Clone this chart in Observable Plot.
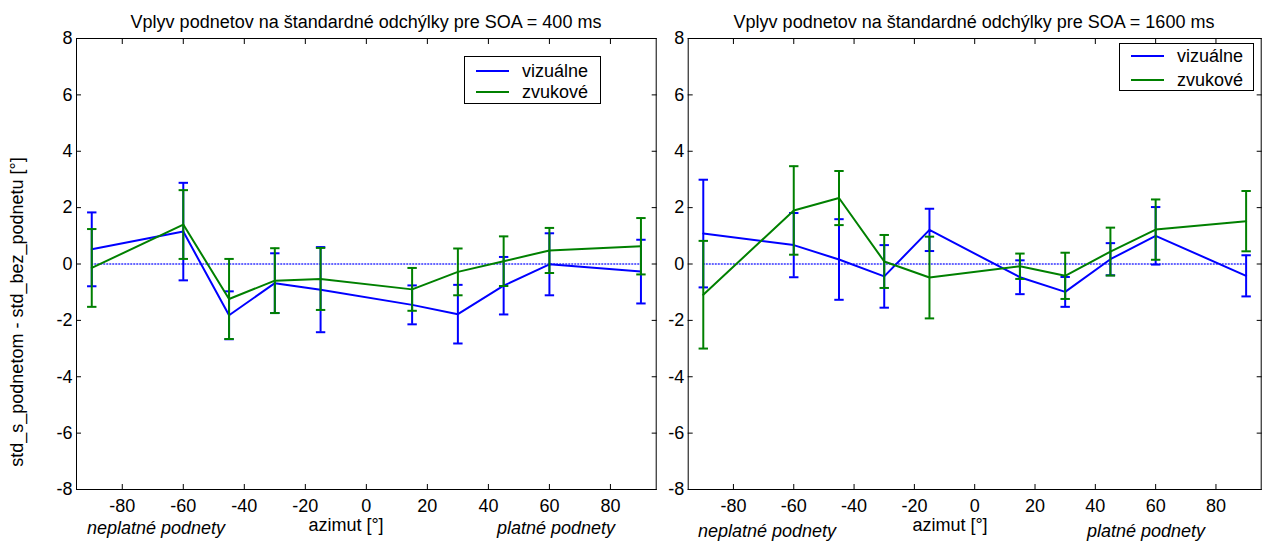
<!DOCTYPE html>
<html>
<head>
<meta charset="utf-8">
<script src="https://cdn.jsdelivr.net/npm/d3@7"></script>
<script src="https://cdn.jsdelivr.net/npm/@observablehq/plot@0.6"></script>
<style>
  body { margin: 0; background: #fff; font-family: "Liberation Sans", Arial, sans-serif; }
  #wrap { position: relative; width: 1266px; height: 541px; overflow: hidden; background: #fff; }
  .abs { position: absolute; white-space: nowrap; font-size: 18px; line-height: 1; color: #000; transform: translate(-50%, -50%); }
  .it { font-style: italic; }
  .panel { position: absolute; top: 0; }
  .legend { position: absolute; box-sizing: border-box; border: 1px solid #000; background: #fff; }
  .legend .ln { position: absolute; height: 0; border-top: 2px solid; transform: translateY(-1px); }
  .legend .tx { position: absolute; font-size: 18px; line-height: 1; white-space: nowrap; transform: translateY(-50%); }
</style>
</head>
<body>
<div id="wrap"></div>
<script>
// ---------------- data ----------------
const azimuth = [-90, -60, -45, -30, -15, 15, 30, 45, 60, 90];

const seriesNames  = ["vizuálne", "zvukové"];
const seriesColors = ["#0000ff", "#008000"];

// SOA = 400 ms
const vis400Mean = [0.52, 1.15, -1.82, -0.68, -0.91, -1.45, -1.78, -0.77, -0.01, -0.27];
const vis400Err  = [1.31, 1.73, 0.85, 1.06, 1.51, 0.69, 1.04, 1.02, 1.10, 1.13];
const aud400Mean = [-0.14, 1.40, -1.24, -0.59, -0.53, -0.90, -0.28, 0.10, 0.48, 0.63];
const aud400Err  = [1.38, 1.22, 1.42, 1.15, 1.10, 0.76, 0.83, 0.88, 0.80, 1.00];

// SOA = 1600 ms
const vis1600Mean = [1.08, 0.67, 0.16, -0.44, 1.21, -0.47, -0.99, 0.17, 1.00, -0.42];
const vis1600Err  = [1.91, 1.14, 1.43, 1.11, 0.75, 0.60, 0.53, 0.57, 1.02, 0.73];
const aud1600Mean = [-1.09, 1.90, 2.34, 0.09, -0.48, -0.08, -0.42, 0.44, 1.22, 1.52];
const aud1600Err  = [1.91, 1.57, 0.96, 0.94, 1.45, 0.45, 0.82, 0.85, 1.07, 1.07];

const xTicks = [-80, -60, -40, -20, 0, 20, 40, 60, 80];
const yTicks = [-8, -6, -4, -2, 0, 2, 4, 6, 8];
const xDomain = [-95, 95];
const yDomain = [-8, 8];

const titles = [
  "Vplyv podnetov na štandardné odchýlky pre SOA = 400 ms",
  "Vplyv podnetov na štandardné odchýlky pre SOA = 1600 ms"
];
const yLabel = "std_s_podnetom - std_bez_podnetu [°]";
const xLabel = "azimut [°]";
const leftNote = "neplatné podnety";
const rightNote = "platné podnety";

// ---------------- drawing ----------------
const capSymbol = {
  draw(ctx, size) {
    const r = Math.sqrt(size / Math.PI);
    ctx.moveTo(-r, 0);
    ctx.lineTo(r, 0);
  }
};

function buildRows(pairs) {
  const rows = [];
  pairs.forEach(([m, e], si) => azimuth.forEach((a, i) => rows.push({
    series: seriesNames[si], az: a, mean: m[i], lo: m[i] - e[i], hi: m[i] + e[i]
  })));
  return rows;
}

function panel(pairs, layout) {
  const rows = buildRows(pairs);
  const fmt = d => String(d);
  const marks = [
    Plot.ruleY([0], {x1: d3.min(azimuth), x2: d3.max(azimuth), stroke: "#0000ff",
      strokeOpacity: 0.6, strokeWidth: 2, strokeDasharray: "2,1"})
  ];
  seriesNames.forEach((s, si) => {
    const d = rows.filter(r => r.series === s);
    const c = seriesColors[si];
    marks.push(Plot.line(d, {x: "az", y: "mean", stroke: c, strokeWidth: 2}));
    marks.push(Plot.ruleX(d, {x: "az", y1: "lo", y2: "hi", stroke: c, strokeWidth: 2}));
    marks.push(Plot.dot(d, {x: "az", y: "lo", symbol: capSymbol, r: 4.7, stroke: c, strokeWidth: 2, fill: "none"}));
    marks.push(Plot.dot(d, {x: "az", y: "hi", symbol: capSymbol, r: 4.7, stroke: c, strokeWidth: 2, fill: "none"}));
  });
  marks.push(Plot.frame({stroke: "#000", strokeWidth: 1}));
  // inward ticks on all four sides
  marks.push(Plot.axisX(xTicks, {anchor: "bottom", tickSize: 5, dy: -5, tickFormat: () => "", label: null}));
  marks.push(Plot.axisX(xTicks, {anchor: "top", tickSize: 5, dy: 5, tickFormat: () => "", label: null}));
  marks.push(Plot.axisY(yTicks, {anchor: "left", tickSize: 5, dx: 5, tickFormat: () => "", label: null}));
  marks.push(Plot.axisY(yTicks, {anchor: "right", tickSize: 5, dx: -5, tickFormat: () => "", label: null}));
  // tick labels
  marks.push(Plot.axisX(xTicks, {anchor: "bottom", tickSize: 0, tickPadding: 9.5, tickFormat: fmt, label: null}));
  marks.push(Plot.axisY(yTicks, {anchor: "left", tickSize: 0, tickPadding: 4, tickFormat: fmt, label: null}));

  return Plot.plot({
    width: layout.width,
    height: 541,
    marginLeft: layout.ml,
    marginRight: layout.mr,
    marginTop: 38,
    marginBottom: 52,
    x: {domain: xDomain},
    y: {domain: yDomain},
    style: {fontFamily: "'Liberation Sans', Arial, sans-serif", fontSize: "18px", background: "transparent", overflow: "visible", color: "#000"},
    marks
  });
}

const wrap = document.getElementById("wrap");

function place(el, left) {
  const d = document.createElement("div");
  d.className = "panel";
  d.style.left = left + "px";
  d.appendChild(el);
  wrap.appendChild(d);
}

place(panel([[vis400Mean, vis400Err], [aud400Mean, aud400Err]], {width: 660, ml: 76, mr: 4.3}), 0);
place(panel([[vis1600Mean, vis1600Err], [aud1600Mean, aud1600Err]], {width: 626, ml: 47.7, mr: 5.3}), 640);

function addText(txt, x, y, cls, extra) {
  const d = document.createElement("div");
  d.className = "abs " + (cls || "");
  d.textContent = txt;
  d.style.left = x + "px";
  d.style.top = y + "px";
  if (extra) d.style.transform = extra;
  wrap.appendChild(d);
}

addText(titles[0], 366, 22);
addText(titles[1], 974, 22);
addText(yLabel, 17, 312, "", "translate(-50%, -50%) rotate(-90deg)");
addText(leftNote, 156, 528, "it");
addText(xLabel, 346, 525);
addText(rightNote, 556, 528, "it");
addText(leftNote, 767, 531, "it");
addText(xLabel, 950, 525);
addText(rightNote, 1146, 531, "it");

function addLegend(box) {
  const lg = document.createElement("div");
  lg.className = "legend";
  Object.assign(lg.style, {left: box.x + "px", top: box.y + "px", width: box.w + "px", height: box.h + "px"});
  seriesNames.forEach((s, i) => {
    const ln = document.createElement("div");
    ln.className = "ln";
    Object.assign(ln.style, {left: box.lx + "px", width: box.lw + "px", top: box.rows[i] + "px", borderTopColor: seriesColors[i]});
    lg.appendChild(ln);
    const tx = document.createElement("div");
    tx.className = "tx";
    tx.textContent = s;
    Object.assign(tx.style, {left: box.tx + "px", top: box.rows[i] + "px"});
    lg.appendChild(tx);
  });
  wrap.appendChild(lg);
}

addLegend({x: 464, y: 56, w: 137, h: 48, lx: 11, lw: 33, tx: 57, rows: [14, 34.5]});
addLegend({x: 1119, y: 43, w: 135, h: 48, lx: 11, lw: 33, tx: 57, rows: [12, 36]});
</script>
</body>
</html>
